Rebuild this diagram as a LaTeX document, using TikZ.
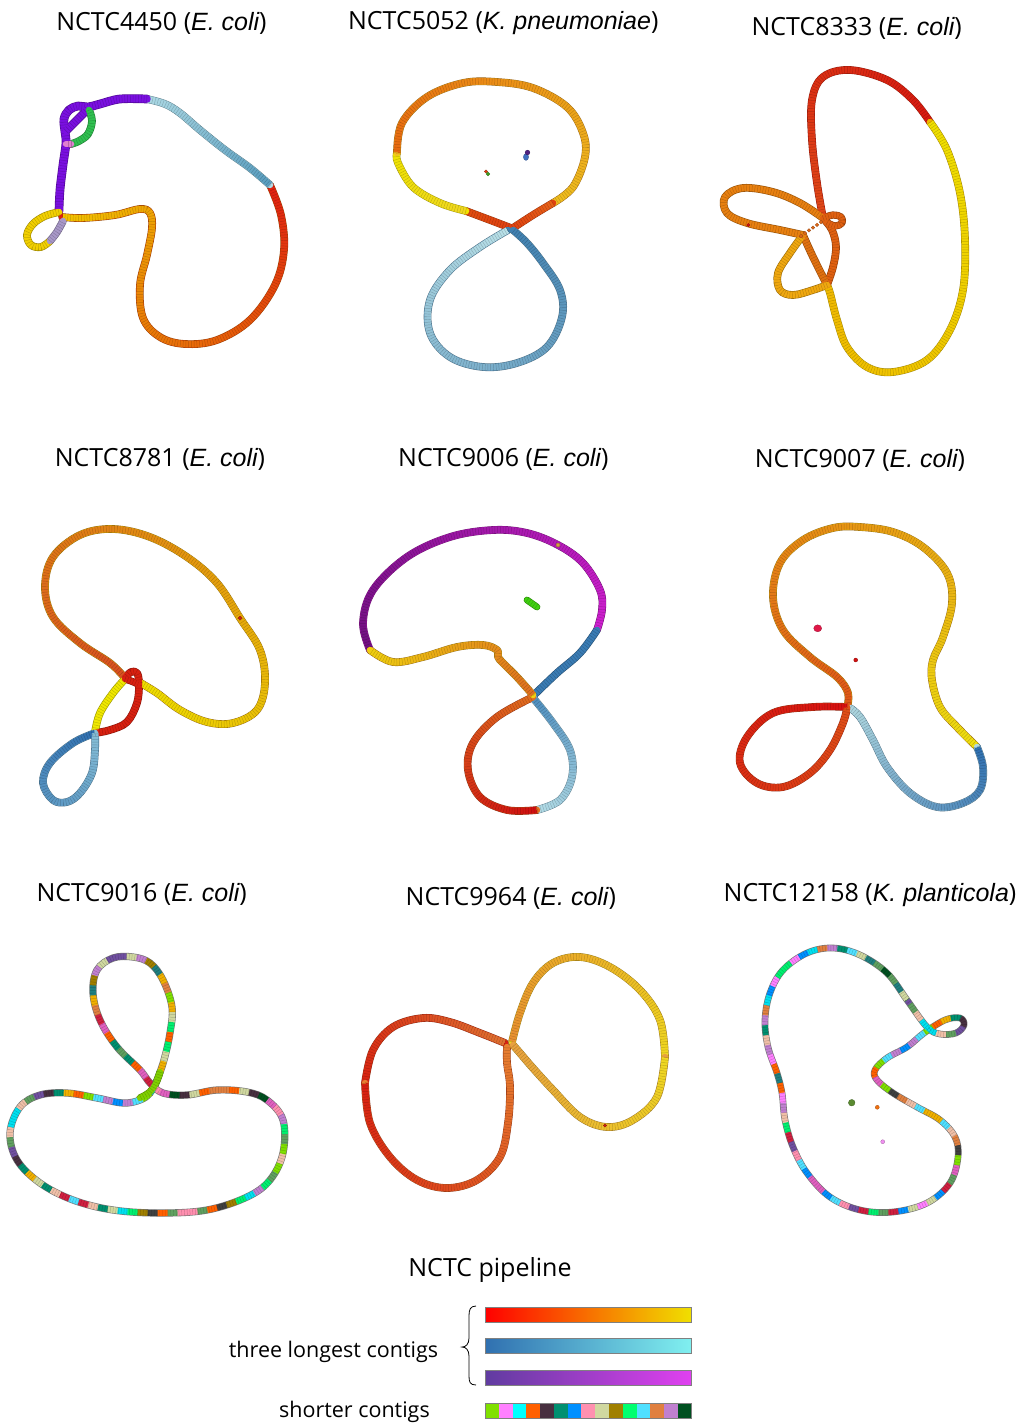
\documentclass[tikz,border=0pt]{standalone}
\usepackage{fontspec}
\setmainfont{Open Sans}
\newfontfamily\spfont{Liberation Sans}
\usetikzlibrary{calc}

\definecolor{r0}{HTML}{80E000}\definecolor{r1}{HTML}{FF80FF}\definecolor{r2}{HTML}{00E0F0}
\definecolor{r3}{HTML}{FF6000}\definecolor{r4}{HTML}{483040}\definecolor{r5}{HTML}{009070}
\definecolor{r6}{HTML}{0090FF}\definecolor{r7}{HTML}{FF90B0}\definecolor{r8}{HTML}{D0D8A0}
\definecolor{r9}{HTML}{A08000}\definecolor{r10}{HTML}{00F070}\definecolor{r11}{HTML}{50E0FF}
\definecolor{r12}{HTML}{E08040}\definecolor{r13}{HTML}{C080D0}\definecolor{r14}{HTML}{005020}
\definecolor{r15}{HTML}{E060C0}\definecolor{r16}{HTML}{F0C0A8}\definecolor{r17}{HTML}{7050A0}
\definecolor{r18}{HTML}{D02040}\definecolor{r19}{HTML}{208080}\definecolor{r20}{HTML}{F0B000}
\definecolor{r21}{HTML}{60A060}\definecolor{r22}{HTML}{404040}

\newif\ifborder
% collect points and chord length
\newcommand\buildpts[2]{%
  \gdef\plotpts{}\gdef\clen{0}\gdef\px{}%
  \foreach \x/\y in {#1}{%
    \ifx\px\empty \xdef\fx{\x}\xdef\fy{\y}\else
      \pgfmathsetmacro\tmpl{\clen+veclen(\x-\px,\y-\py)}\xdef\clen{\tmpl}\fi
    \xdef\px{\x}\xdef\py{\y}%
    \xdef\plotpts{\plotpts(\x,\y)}}%
  \ifnum#2=1 \pgfmathsetmacro\tmpl{\clen+veclen(\fx-\px,\fy-\py)}\xdef\clen{\tmpl}\fi}

% gradient contig: #1 colour A, #2 colour B, #3 width, #4 cycle flag, #5 points
\newcommand\contig[5]{%
  \buildpts{#5}{#4}%
  \ifnum#4=1 \def\ph{smooth cycle}\else\def\ph{smooth}\fi
  \definecolor{ga}{HTML}{#1}\definecolor{gb}{HTML}{#2}%
  \ifborder
    \pgfmathsetmacro\bw{#3+1.2}%
    \edef\tmp{\noexpand\draw[line width=\bw pt,draw=gb!50!ga!65!black,line cap=round,line join=round] plot[\ph,tension=0.6] coordinates {\plotpts};}\tmp
  \else
    \edef\tmp{\noexpand\draw[line width=#3pt,draw=gb,line cap=round,line join=round] plot[\ph,tension=0.6] coordinates {\plotpts};}\tmp
    \def\ta{#1}\def\tb{#2}%
    \ifx\ta\tb\else
      \pgfmathtruncatemacro\nseg{max(1,ceil(\clen/6))}%
      \foreach \k in {1,...,\nseg}{%
        \pgfmathsetmacro\cp{100*((\k-1)/\nseg)}%
        \pgfmathsetmacro\off{(\k-1)*6+0.01}%
        \colorlet{cmc}{gb!\cp!ga}%
        \edef\tmp{\noexpand\draw[line width=#3pt,draw=cmc,line cap=butt,line join=round,dash pattern=on 0.01pt off \off pt on 6.4pt off 16000pt] plot[\ph,tension=0.6] coordinates {\plotpts};}\tmp}%
    \fi
    \edef\tmp{\noexpand\draw[line width=#3pt,draw=black,draw opacity=0.2,line cap=butt,dash pattern=on 0.45pt off 2.3pt] plot[\ph,tension=0.6] coordinates {\plotpts};}\tmp
  \fi}

% many-coloured closed contig chain: #1 seed, #2 width, #3 points
\newcommand\rcontig[3]{%
  \buildpts{#3}{1}%
  \ifborder
    \pgfmathsetmacro\bw{#2+1.2}%
    \edef\tmp{\noexpand\draw[line width=\bw pt,draw=black!55,line join=round] plot[smooth cycle,tension=0.6] coordinates {\plotpts};}\tmp
  \else
    \pgfmathtruncatemacro\nseg{ceil(1.06*\clen/10)}%
    \foreach \k in {1,...,\nseg}{%
      \pgfmathtruncatemacro\km{mod(\k,23)}%
      \pgfmathtruncatemacro\ri{mod(\km*\km*7+\km*13+floor(\k/23)*5+#1,23)}%
      \pgfmathsetmacro\off{(\k-1)*10+0.01}%
      \edef\tmp{\noexpand\draw[line width=#2pt,draw=r\ri,line cap=butt,line join=round,dash pattern=on 0.01pt off \off pt on 10.4pt off 16000pt] plot[smooth cycle,tension=0.6] coordinates {\plotpts};}\tmp}%
    \edef\tmp{\noexpand\draw[line width=#2pt,draw=black,draw opacity=0.2,line cap=butt,dash pattern=on 0.45pt off 2.3pt] plot[smooth cycle,tension=0.6] coordinates {\plotpts};}\tmp
  \fi}

\tikzset{
  ttl/.style={anchor=base,inner sep=0pt,font=\fontsize{25}{30}\selectfont},
  lbl/.style={anchor=base east,inner sep=0pt,font=\fontsize{21.5}{25}\selectfont},
  blob/.style={/utils/exec={\definecolor{bc}{HTML}{#1}},draw=bc!70!black,fill=bc,line width=0.3pt},
  bar/.style={draw=gray,line width=0.8pt},
}

\newcommand\allcontigs{%
% ---------- panel 1: NCTC4450 ----------
\contig{F2C200}{E02010}{6.5}{0}{62/217,83/218,115/215,140/209,150/213,152/228,147/255,140/285,143/318,160/337,185/344,217/340,250/320,275/285,284/250,281/215,270/185}%
\contig{5A9EC0}{B0DCE6}{6.5}{0}{270/185,250/168,225/150,200/130,180/113,165/104,147/99}%
\contig{7A10E0}{7A10E0}{7.5}{0}{147/99,120/99,100/104,88/107,78/106,69/110,64/119,65/132,66/143,63/165,60/190,59/211}%
\contig{7A10E0}{7A10E0}{7}{0}{66/131,76/121,88/109}%
\contig{30C050}{30C050}{6.5}{0}{89/110,92/121,88/134,79/141,71/144}%
\contig{E080D0}{E080D0}{6.5}{0}{71/144,66/144}%
\contig{F2D000}{F2D000}{6.5}{0}{59/212,45/216,33/224,27/235,31/245,41/247,50/241}%
\contig{A898C8}{A898C8}{6.5}{0}{50/241,57/232,63/221}%
% ---------- panel 2: NCTC5052 ----------
\contig{E04010}{E05010}{6.5}{0}{511/228,490/220,466/211}%
\contig{F0D820}{F0E400}{6.5}{0}{466/211,440/203,413/187,398/163,397/153}%
\contig{E86A10}{F0C020}{6.5}{0}{397/153,402/123,427/97,463/83,497/82,533/88,567/107,583/133,585/157,573/187,553/203}%
\contig{E86018}{E04010}{6.5}{0}{553/203,533/215,513/228}%
\contig{B8E0E8}{4080B0}{6.5}{0}{508/230,480/247,450/270,430/300,430/333,450/357,483/367,517/363,547/347,562/317,560/290,543/263,527/243,513/230}%
% ---------- panel 3: NCTC8333 ----------
\contig{E04818}{D81810}{6.5}{0}{823/218,817/183,812/140,812/100,823/77,850/70,887/80,913/100,930/122}%
\contig{F0E000}{F0B800}{6.5}{0}{930/122,947/150,960/193,965/240,963/290,950/330,927/360,893/372,867/367,847/347,837/320,830/293,827/285}%
\contig{E06010}{E06010}{6.5}{0}{827/285,833/267,836/247,832/230,823/218}%
\contig{E07010}{E07010}{6.5}{0}{827/285,813/257,803/235}%
\contig{F0A810}{F0A810}{6.5}{0}{803/235,790/253,778/273,780/290,793/295,813/290,827/285}%
\contig{E88010}{E88010}{6.5}{0}{803/235,780/230,747/223,727/213,725/197,743/188,773/192,800/203,823/218}%
\contig{E06010}{E06010}{6}{0}{823/218,833/215,841/217,842/223,835/226,826/222}%
% ---------- panel 4: NCTC8781 ----------
\contig{D85020}{F0E000}{6.5}{0}{125/678,110/663,80/643,53/617,45/587,53/557,80/535,113/529,150/537,187/557,217/583,240/618,260/650,265/683,257/710,233/723,207/722,180/710,157/693,139/682}%
\contig{F0E800}{F0E800}{6.5}{0}{125/679,113/693,100/713,95/732}%
\contig{D82010}{D82010}{6.5}{0}{125/678,131/672,137/673,139/684,137/703,127/722,110/730,95/733}%
\contig{D82010}{D82010}{6}{0}{125/679,131/681,138/684}%
\contig{3070B0}{88C0D8}{6.5}{0}{95/733,73/743,50/763,43/783,53/800,67/802,80/793,92/773,95/750,95/733}%
% ---------- panel 5: NCTC9006 ----------
\contig{701080}{D020D0}{6.5}{0}{370/650,363/623,373/590,407/557,450/537,493/530,527/533,558/545,583/563,600/590,602/610,597/630}%
\contig{3A7CB4}{3A7CB4}{6.5}{0}{597/630,580/653,557/673,535/694}%
\contig{5090C0}{B8E0E8}{6.5}{0}{534/699,553/723,570/750,572/777,560/800,537/810}%
\contig{D01010}{E07020}{6.5}{0}{537/810,507/810,480/797,468/770,473/743,497/717,533/697}%
\contig{E07020}{F0D010}{6.5}{0}{533/695,517/677,503/663,498/657,497/650,483/645,457/647,423/657,393/662,370/650}%
\contig{40D010}{40D010}{5.5}{0}{527/600,537/607}%
% ---------- panel 6: NCTC9007 ----------
\contig{E05818}{F0E010}{6.5}{0}{847/708,848/693,837/677,810/657,783/630,773/597,780/563,803/540,833/528,860/527,893/532,923/547,947/573,952/603,943/637,933/660,932/680,940/707,957/727,977/747}%
\contig{3070B0}{B0D8E0}{6.5}{0}{977/747,983/767,980/790,963/803,937/807,910/793,887/767,873/740,860/717,850/708}%
\contig{D81010}{E05018}{6.5}{0}{847/707,813/707,773/713,747/737,740/763,757/783,783/787,810/773,830/750,843/723,847/708}%
% ---------- panel 7: NCTC9016 ----------
\rcontig{3}{6}{157/1080,150/1093,140/1100,123/1103,97/1098,67/1093,40/1095,20/1107,10/1133,17/1160,40/1183,73/1200,113/1210,160/1213,207/1210,247/1197,270/1180,283/1153,283/1120,267/1100,247/1092,217/1090,187/1095,163/1093,150/1083,140/1070,117/1047,100/1020,93/993,97/970,113/958,133/957,150/963,163/980,172/1007,170/1033,164/1060}%
\contig{80D000}{80D000}{6}{0}{160/1072,156/1083,150/1092,140/1098}%
% ---------- panel 8: NCTC9964 ----------
\contig{E07030}{D82010}{6.5}{0}{505/1043,480/1033,450/1022,423/1018,393/1027,373/1050,365/1083}%
\contig{D82010}{E88030}{6.5}{0}{365/1083,370/1123,390/1157,417/1180,447/1188,477/1180,500/1157,508/1123,510/1087,507/1063,507/1047}%
\contig{E89030}{F0D820}{6.5}{0}{512/1042,520/1013,533/983,553/963,580/957,610/967,640/990,660/1020,665/1057}%
\contig{F0D820}{E8A040}{6.5}{0}{665/1057,657/1097,633/1120,607/1127,580/1117,553/1090,532/1067,520/1053,513/1045}%
% ---------- panel 9: NCTC12158 ----------
\rcontig{11}{5.5}{927/1027,907/1000,887/973,860/955,833/948,807/953,783/970,770/993,765/1020,768/1047,777/1073,782/1093,785/1120,793/1147,807/1173,830/1197,860/1210,893/1212,927/1203,950/1183,958/1157,955/1137,940/1120,917/1107,893/1093,877/1080,875/1070,887/1058,907/1047,924/1033,945/1020,960/1018,964/1025,956/1033,940/1034}%
}

\begin{document}
\begin{tikzpicture}[x=1pt,y=-1pt]
\useasboundingbox (0,0) rectangle (1026,1424);

% ---------- titles ----------
\node[ttl] (t1) at (161.5,30) {NCTC4450 ({\spfont\itshape E. coli})};
\node[ttl] (t2) at (503.3,29.5) {NCTC5052 ({\spfont\itshape K. pneumoniae})};
\node[ttl] (t3) at (856.7,35) {NCTC8333 ({\spfont\itshape E. coli})};
\node[ttl] (t4) at (160,466) {NCTC8781 ({\spfont\itshape E. coli})};
\node[ttl] (t5) at (503.3,466) {NCTC9006 ({\spfont\itshape E. coli})};
\node[ttl] (t6) at (860,467.7) {NCTC9007 ({\spfont\itshape E. coli})};
\node[ttl] (t7) at (141.7,901.7) {NCTC9016 ({\spfont\itshape E. coli})};
\node[ttl] (t8) at (510.8,905) {NCTC9964 ({\spfont\itshape E. coli})};
\node[ttl] (t9) at (870,901) {NCTC12158 ({\spfont\itshape K. planticola})};

% ---------- contigs: outlines first, then fills ----------
\bordertrue \allcontigs
\borderfalse \allcontigs

% ---------- small separate contigs ----------
\path[blob=4070C0] (526,157) ellipse (2.6 and 3.4);
\path[blob=502080] (527.5,152.5) circle (2.4);
\path[blob=E04010] (486,171.5) circle (1.7);
\path[blob=40A020] (488,174) circle (1.9);
\foreach \t in {0,0.2,0.4,0.6,0.8,1} \path[blob=E06818] ($(801,236)!\t!(821,222)$) circle (1.8);
\path[blob=D01010] (748.3,225) circle (1.6);
\path[blob=D02010] (240,618) circle (1.8);
\path[blob=D0A040] (558,545) circle (2);
\path[blob=E01848] (817.7,628.3) ellipse (4 and 3.5);
\path[blob=D01010] (855.7,660) circle (2);
\path[blob=D02010] (605,1125.5) circle (1.6);
\path[blob=5A8A30] (851.7,1102.7) circle (3.3);
\path[blob=F07010] (877.3,1107.3) circle (2);
\path[blob=F090F0] (882.7,1141.7) circle (2);

% ---------- legend ----------
\node[ttl] (lt) at (490,1276) {NCTC pipeline};
\node[lbl] (l1) at (438.3,1357.3) {three longest contigs};
\node[lbl] (l2) at (430,1417) {shorter contigs};
\draw[line width=0.8pt] (476,1306) .. controls (470,1306) and (469,1310) .. (469,1316) -- (469,1338) .. controls (469,1344) and (466,1347) .. (462,1347) .. controls (466,1347) and (469,1350) .. (469,1356) -- (469,1376) .. controls (469,1382) and (470,1385) .. (476,1385);
\definecolor{b1l}{HTML}{FF0000}\definecolor{b1m}{HTML}{F88000}\definecolor{b1r}{HTML}{F0E000}
\definecolor{b2l}{HTML}{3070B0}\definecolor{b2m}{HTML}{58ACCC}\definecolor{b2r}{HTML}{80F0F0}
\definecolor{b3l}{HTML}{603CA0}\definecolor{b3m}{HTML}{9838C0}\definecolor{b3r}{HTML}{E040F0}
\shade[left color=b1l,middle color=b1m,right color=b1r] (485,1307.3) rectangle (691.7,1322);
\draw[bar] (485,1307.3) rectangle (691.7,1322);
\shade[left color=b2l,middle color=b2m,right color=b2r] (485,1338.3) rectangle (691.7,1353.3);
\draw[bar] (485,1338.3) rectangle (691.7,1353.3);
\shade[left color=b3l,middle color=b3m,right color=b3r] (485,1370) rectangle (691.7,1385.3);
\draw[bar] (485,1370) rectangle (691.7,1385.3);
\foreach \c [count=\i from 0] in {80E000,FF80FF,00FFFF,FF6000,483040,009070,0090FF,FF90B0,D0D8A0,A08000,00FF70,50E0FF,E08040,C080D0,005020} {
  \definecolor{sq}{HTML}{\c}
  \fill[sq] (485+\i*13.78,1403.3) rectangle (485+\i*13.78+13.78,1418.3);
}
\draw[bar] (485,1403.3) rectangle (691.7,1418.3);
\end{tikzpicture}
\end{document}
